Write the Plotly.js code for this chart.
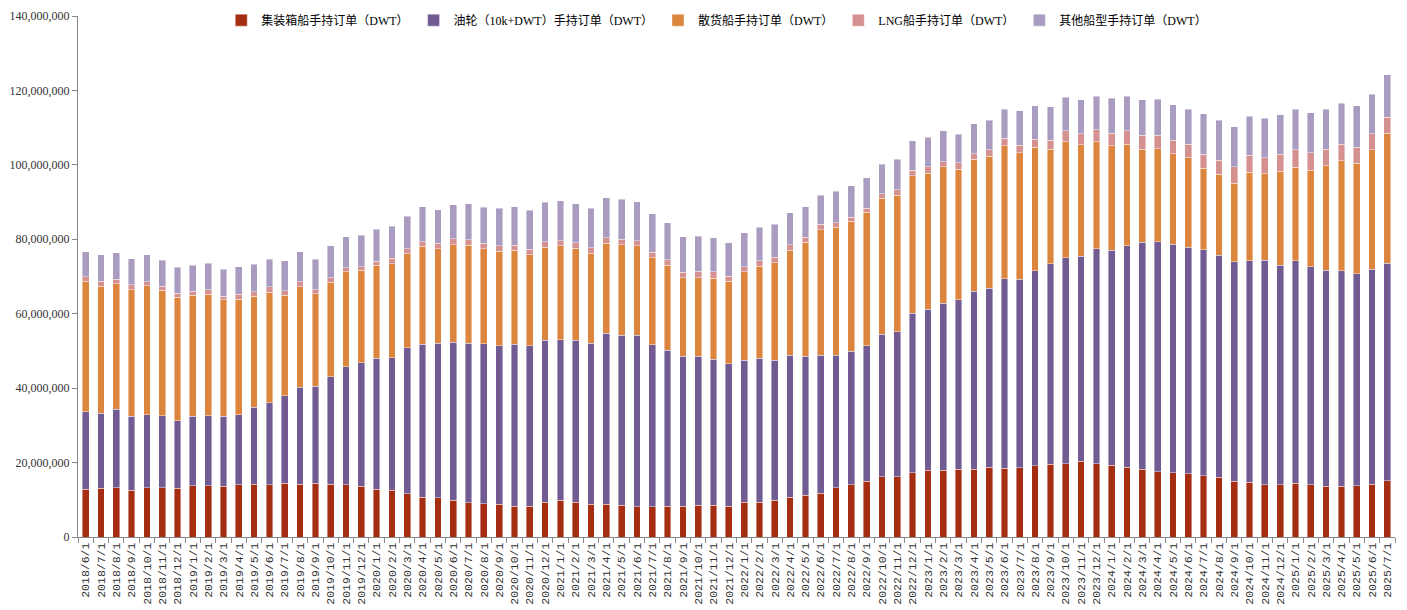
<!DOCTYPE html>
<html>
<head>
<meta charset="utf-8">
<script src="https://cdn.plot.ly/plotly-3.0.1.min.js"></script>
<style>
html,body{margin:0;padding:0;background:#fff;}
#chart{width:1407px;height:610px;}
</style>
</head>
<body>
<div id="chart"></div>
<script>
const months = [
"2018/6/1","2018/7/1","2018/8/1","2018/9/1","2018/10/1","2018/11/1","2018/12/1",
"2019/1/1","2019/2/1","2019/3/1","2019/4/1","2019/5/1","2019/6/1","2019/7/1","2019/8/1","2019/9/1","2019/10/1","2019/11/1","2019/12/1",
"2020/1/1","2020/2/1","2020/3/1","2020/4/1","2020/5/1","2020/6/1","2020/7/1","2020/8/1","2020/9/1","2020/10/1","2020/11/1","2020/12/1",
"2021/1/1","2021/2/1","2021/3/1","2021/4/1","2021/5/1","2021/6/1","2021/7/1","2021/8/1","2021/9/1","2021/10/1","2021/11/1","2021/12/1",
"2022/1/1","2022/2/1","2022/3/1","2022/4/1","2022/5/1","2022/6/1","2022/7/1","2022/8/1","2022/9/1","2022/10/1","2022/11/1","2022/12/1",
"2023/1/1","2023/2/1","2023/3/1","2023/4/1","2023/5/1","2023/6/1","2023/7/1","2023/8/1","2023/9/1","2023/10/1","2023/11/1","2023/12/1",
"2024/1/1","2024/2/1","2024/3/1","2024/4/1","2024/5/1","2024/6/1","2024/7/1","2024/8/1","2024/9/1","2024/10/1","2024/11/1","2024/12/1",
"2025/1/1","2025/2/1","2025/3/1","2025/4/1","2025/5/1","2025/6/1","2025/7/1"
];

// values in million DWT
const container = [12.8,13.1,13.3,12.6,13.3,13.3,13.1,13.8,13.8,13.6,14.0,14.2,14.0,14.4,14.2,14.4,14.2,14.0,13.6,12.8,12.5,11.6,10.7,10.6,9.9,9.2,9.0,8.8,8.3,8.3,9.4,9.9,9.4,8.8,8.8,8.5,8.1,8.1,8.3,8.3,8.5,8.5,8.3,9.4,9.4,9.9,10.7,11.2,11.8,13.3,14.0,15.0,16.2,16.2,17.3,17.9,17.9,18.2,18.2,18.8,18.5,18.6,19.1,19.5,19.7,20.3,19.7,19.3,18.8,18.2,17.6,17.3,17.0,16.4,16.0,15.0,14.7,14.0,14.0,14.4,14.0,13.6,13.6,13.8,14.2,15.1];
const tanker = [20.9,20.2,21.0,19.8,19.6,19.3,18.2,18.6,18.8,18.8,18.8,20.7,22.1,23.6,26.1,26.1,28.9,31.7,33.2,35.3,35.7,39.3,41.1,41.5,42.5,42.8,42.9,42.6,43.5,43.1,43.5,43.1,43.5,43.3,45.9,45.7,46.1,43.5,41.9,40.3,40.1,39.3,38.3,38.1,38.7,37.6,38.2,37.4,37.0,35.5,35.9,36.4,38.3,38.9,42.8,43.3,44.9,45.5,47.8,48.1,50.9,50.7,52.4,53.9,55.4,55.1,57.7,57.7,59.5,61.0,61.7,61.4,60.8,60.8,59.7,59.0,59.6,60.4,59.0,59.9,58.6,58.1,57.9,56.9,57.7,58.5];
const bulk = [35.0,34.1,33.7,34.1,34.6,33.7,33.1,32.5,32.6,31.3,31.1,29.8,29.7,26.9,26.9,24.9,25.4,25.6,24.9,24.9,25.2,25.2,26.3,25.4,26.2,26.4,25.6,25.4,25.2,24.5,24.9,25.2,24.7,24.2,24.2,24.3,24.1,23.5,22.8,21.1,21.1,21.7,22.1,23.8,24.7,26.2,28.2,30.6,33.7,34.5,34.9,35.8,36.5,36.7,37.0,36.5,36.7,35.1,35.5,35.4,35.8,33.9,33.2,30.8,31.1,30.0,28.8,28.1,27.3,25.0,25.0,24.3,24.1,21.9,21.8,21.0,23.7,23.2,25.3,25.0,25.9,28.0,29.6,29.7,32.2,34.9];
const lng = [1.3,1.3,1.3,1.3,1.1,1.1,1.1,1.1,1.3,1.0,1.3,1.2,1.5,1.3,1.4,1.1,1.2,1.0,0.9,1.1,1.5,1.3,1.3,1.4,1.5,1.5,1.4,1.4,1.4,1.4,1.5,1.4,1.5,1.4,1.5,1.5,1.3,1.4,1.5,1.4,1.7,1.8,1.4,1.3,1.5,1.5,1.5,1.3,1.5,1.2,1.1,1.2,1.3,1.5,1.5,1.8,1.4,1.8,1.5,1.8,2.0,2.1,2.2,2.4,3.0,3.0,3.2,3.4,3.6,3.7,3.6,3.6,3.7,3.7,3.8,4.5,4.6,4.3,4.5,4.8,4.7,4.5,4.4,4.3,4.2,4.3];
const other = [6.7,7.1,7.1,7.0,7.3,7.0,7.0,7.0,7.1,7.2,7.4,7.4,7.3,8.1,8.0,8.1,8.5,8.4,8.5,8.6,8.6,8.8,9.3,9.0,9.2,9.7,9.7,10.1,10.4,10.5,10.6,10.7,10.5,10.7,10.8,10.7,10.5,10.3,9.9,9.6,9.4,9.1,9.0,9.1,9.0,8.8,8.5,8.3,7.8,8.4,8.5,8.2,7.9,8.2,7.9,7.9,8.3,7.6,8.1,7.9,7.7,9.2,9.0,9.0,9.0,9.1,9.1,9.4,9.3,9.6,9.7,9.6,9.4,10.9,10.7,10.7,10.5,10.6,10.6,10.9,10.8,10.8,11.1,11.2,10.7,11.4];

const seriesNames = ["集装箱船手持订单（DWT）","油轮（10k+DWT）手持订单（DWT）","散货船手持订单（DWT）","LNG船手持订单（DWT）","其他船型手持订单（DWT）"];
const seriesColors = ["#A52D12","#725A92","#DC853E","#D4918F","#A99CC0"];
const seriesData = [container, tanker, bulk, lng, other];

const traces = seriesData.map((vals, i) => ({
  type: "bar",
  name: seriesNames[i],
  x: months,
  y: vals.map(v => v * 1e6),
  marker: {color: seriesColors[i], line: {color: "rgba(255,255,255,0.7)", width: 0.6}},
  hoverinfo: "skip"
}));

const layout = {
  width: 1407, height: 610,
  margin: {l: 78, r: 12, t: 16, b: 73, autoexpand: false},
  paper_bgcolor: "#fff", plot_bgcolor: "#fff",
  barmode: "stack",
  bargap: 0.56,
  showlegend: true,
  legend: {
    orientation: "h", x: 0.485, xanchor: "center", y: 0.992, yanchor: "middle",
    traceorder: "normal",
    font: {family: "Liberation Serif, 'Noto Sans CJK SC', serif", size: 12, color: "#000"},
    itemwidth: 30, bgcolor: "rgba(0,0,0,0)"
  },
  xaxis: {
    type: "category",
    tickangle: -90,
    tickson: "boundaries",
    ticks: "outside", ticklen: 5, tickcolor: "#888",
    showline: true, linecolor: "#888", linewidth: 1,
    showgrid: false, zeroline: false,
    tickfont: {family: "Liberation Mono, monospace", size: 11.5, color: "#333"}
  },
  yaxis: {
    range: [0, 140000000],
    tickvals: [0,20000000,40000000,60000000,80000000,100000000,120000000,140000000],
    tickformat: ",d",
    ticks: "outside", ticklen: 5, tickcolor: "#888",
    showline: true, linecolor: "#888", linewidth: 1,
    showgrid: false, zeroline: false,
    tickfont: {family: "Liberation Serif, serif", size: 12, color: "#333"}
  }
};

Plotly.newPlot("chart", traces, layout, {staticPlot: true, displayModeBar: false});
</script>
</body>
</html>
